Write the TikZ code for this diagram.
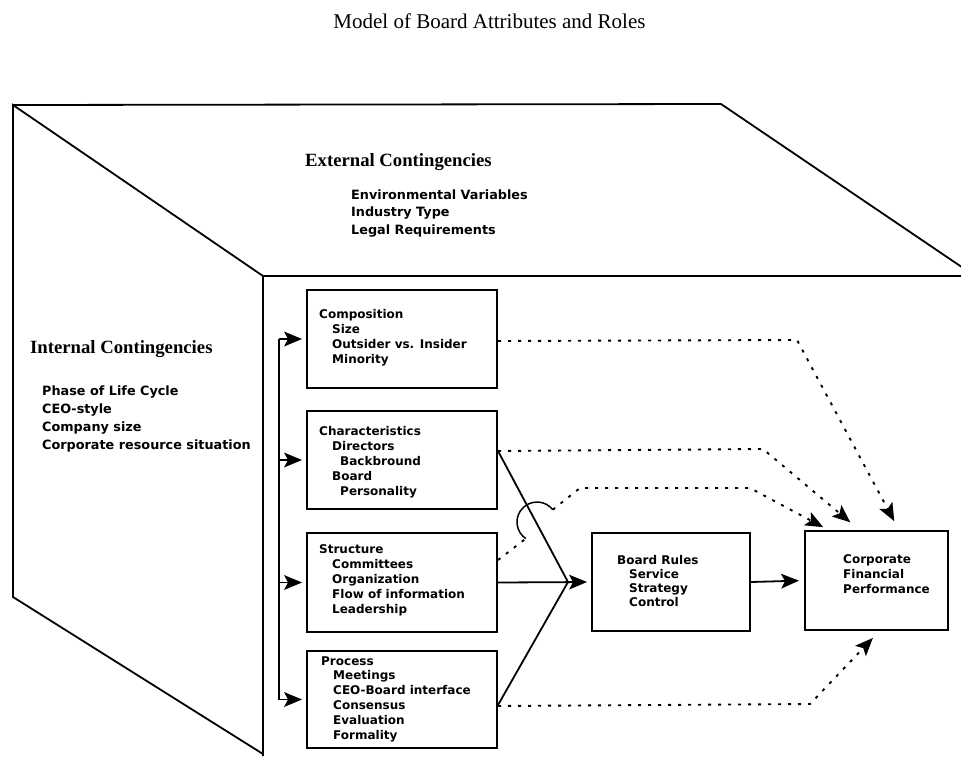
\documentclass[tikz,border=0pt]{standalone}
\usepackage{fontspec}
\setmainfont{Liberation Serif}
\newfontfamily\labelfont{DejaVu Sans}
\usetikzlibrary{arrows.meta}

% text styles for the box contents and the contingency lists
\newcommand\boxtext{\labelfont\bfseries\fontsize{12pt}{15pt}\selectfont}
\newcommand\listtext[1]{\labelfont\bfseries\fontsize{12.8pt}{#1}\selectfont}

\begin{document}
\begin{tikzpicture}[x=1pt,y=-1pt,
  frame/.style={line width=1.8pt, line join=miter},
  box/.style={draw, line width=2pt, inner sep=0pt},
  body/.style={anchor=base west, inner sep=0pt},
  tipshape/.style={-{Stealth[length=18pt,width=15pt,inset=4pt,line width=0pt]}},
  link/.style={line width=1.8pt, tipshape},
  plain/.style={line width=1.8pt},
  dotline/.style={line width=1.9pt, dash pattern=on 3pt off 7pt},
  dotlink/.style={dotline, tipshape},
  heading/.style={body, font=\bfseries\fontsize{18.7pt}{22pt}\selectfont}
]
\useasboundingbox (0,0) rectangle (961,756);

% the open box: top face, left face and the front opening
\begin{scope}
  \clip (0,0) rectangle (961,756);
  \draw[frame] (263,756) -- (263,276) -- (13,105) -- (13,597) -- (263,754);
  \draw[frame] (13,105) -- (721,104) -- (975,276) -- (263,276);
\end{scope}

% title
\node[anchor=base, inner sep=0pt, font=\fontsize{21pt}{25pt}\selectfont] (title) at (489.5,28)
  {Model of Board Attributes and Roles};

% external contingencies on the top face
\node[heading] (extH) at (305,166) {External Contingencies};
\node[body] (extL) at (351,199) {\parbox[t]{220pt}{\listtext{17.5pt}%
  Environmental Variables\\Industry Type\\Legal Requirements}};

% internal contingencies on the left face
\node[heading] (intH) at (30,353) {Internal Contingencies};
\node[body] (intL) at (42,395) {\parbox[t]{220pt}{\listtext{18pt}%
  Phase of Life Cycle\\CEO-style\\Company size\\Corporate resource situation}};

% board attribute boxes
\node[box, minimum width=190pt, minimum height=98pt] (comp)  at (402,339)   {};
\node[box, minimum width=190pt, minimum height=98pt] (char)  at (402,460)   {};
\node[box, minimum width=190pt, minimum height=99pt] (struc) at (402,582.5) {};
\node[box, minimum width=190pt, minimum height=97pt] (proc)  at (402,699.5) {};
\node[box, minimum width=158pt, minimum height=98pt] (rules) at (671,582)   {};
\node[box, minimum width=143pt, minimum height=99pt] (perf)  at (876.5,580.5) {};

\node[body] (compT) at (319,318) {\parbox[t]{175pt}{\boxtext
  Composition\\\hspace*{13pt}Size\\\hspace*{13pt}Outsider vs. Insider\\\hspace*{13pt}Minority}};
\node[body] (charT) at (319,435) {\parbox[t]{175pt}{\boxtext
  Characteristics\\\hspace*{13pt}Directors\\\hspace*{21pt}Backbround\\\hspace*{13pt}Board\\\hspace*{21pt}Personality}};
\node[body] (strucT) at (319,553) {\parbox[t]{175pt}{\boxtext
  Structure\\\hspace*{13pt}Committees\\\hspace*{13pt}Organization\\\hspace*{13pt}Flow of information\\\hspace*{13pt}Leadership}};
\node[body] (procT) at (321,665) {\parbox[t]{175pt}{\boxtext\fontsize{12pt}{14.8pt}\selectfont
  Process\\\hspace*{12pt}Meetings\\\hspace*{12pt}CEO-Board interface\\\hspace*{12pt}Consensus\\\hspace*{12pt}Evaluation\\\hspace*{12pt}Formality}};
\node[body] (rulesT) at (617,564) {\parbox[t]{130pt}{\boxtext\fontsize{12pt}{14.3pt}\selectfont
  Board Rules\\\hspace*{12pt}Service\\\hspace*{12pt}Strategy\\\hspace*{12pt}Control}};
\node[body] (perfT) at (843,563) {\parbox[t]{100pt}{\boxtext
  Corporate\\Financial\\Performance}};

% feedback bracket feeding every attribute box
\coordinate (fbtop) at (279,339);
\coordinate (fbbot) at (279,699.5);
\draw[plain, rounded corners=2pt] (fbtop) -- (fbbot);
\draw[link, shorten >=4pt] (fbtop) -- (comp.west);
\draw[link, shorten >=4pt] (fbtop |- char.west) -- (char.west);
\draw[link, shorten >=4pt] (fbtop |- struc.west) -- (struc.west);
\draw[link, shorten >=4pt] (fbbot) -- (proc.west);

% solid paths converging on the board roles
\coordinate (meet) at (568,582);
\draw[plain] ([yshift=9pt]char.east) -- (meet);
\draw[plain] ([yshift=-5.5pt]proc.east) -- (meet);
\draw[link, shorten >=4pt] (struc.east) -- (rules.west);
\draw[link, shorten >=5pt] (rules.east) -- (perf.west);

% dotted direct effects on performance
\coordinate (b1) at (797,340);
\draw[dotlink, shorten >=10pt] ([yshift=-2pt]comp.east) -- (b1) -- ([xshift=22.5pt]perf.north);

\coordinate (b2) at (763,449);
\draw[dotlink, shorten >=12pt] ([yshift=9pt]char.east) -- (b2) -- ([xshift=-17pt]perf.north);

% structure path hops over the characteristics line
\coordinate (hop) at (537,522);
\path (hop) ++(236:20pt) coordinate (hopA);
\path (hop) ++(38:20pt) coordinate (hopB);
\coordinate (b3a) at (580,488);
\coordinate (b3b) at (750,488);
\draw[dotline] ([yshift=22.5pt]struc.east) -- (hopA);
\draw[line width=1.5pt] (hopA) arc[start angle=236, end angle=38, radius=20pt];
\draw[dotlink, shorten >=6pt] (hopB) -- (b3a) -- (b3b) -- ([xshift=-48pt]perf.north);

\coordinate (b4) at (810,704);
\draw[dotlink, shorten >=9.6pt] ([yshift=-6.5pt]proc.east) -- (b4) -- ([xshift=3pt]perf.south);

\end{tikzpicture}
\end{document}
